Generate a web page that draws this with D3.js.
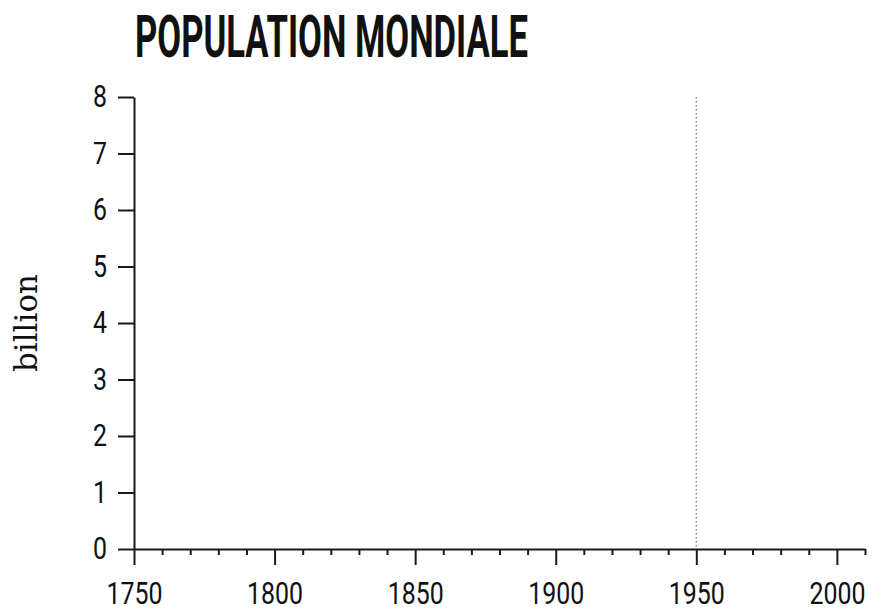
<!DOCTYPE html>
<html>
<head>
<meta charset="utf-8">
<script src="https://cdn.jsdelivr.net/npm/d3@7"></script>
<style>
  body { margin: 0; background: #fff; }
  svg { display: block; }
</style>
</head>
<body>
<div id="chart"></div>
<script>
// chart values
const title = "POPULATION MONDIALE";
const yLabel = "billion";
const yearRange = [1750, 2010];
const yearTicks = [1750, 1760, 1770, 1780, 1790, 1800, 1810, 1820, 1830, 1840, 1850,
  1860, 1870, 1880, 1890, 1900, 1910, 1920, 1930, 1940, 1950, 1960, 1970, 1980, 1990, 2000, 2010];
const yearLabels = [1750, 1800, 1850, 1900, 1950, 2000];
const popTicks = [0, 1, 2, 3, 4, 5, 6, 7, 8];
const markerYears = [1950];

const W = 873, H = 609;
const margin = {top: 97, right: 8, bottom: 60, left: 134};
const width = W - margin.left - margin.right;
const height = H - margin.top - margin.bottom;

const svg = d3.select('#chart').append('svg')
  .attr('width', W)
  .attr('height', H);

const g = svg.append('g')
  .attr('transform', `translate(${margin.left},${margin.top})`);

const x = d3.scaleLinear().domain(yearRange).range([0, width]);
const y = d3.scaleLinear().domain([0, 8]).range([height, 0]);

const tickFont = "'Roboto', sans-serif";
const digitW = 14; // condensed look, squeeze each label

// dotted marker line
g.selectAll('.marker')
  .data(markerYears)
  .enter().append('line')
    .attr('class', 'marker')
    .attr('x1', d => x(d)).attr('x2', d => x(d))
    .attr('y1', y(8)).attr('y2', y(0))
    .attr('stroke', '#8a8a8a')
    .attr('stroke-width', 1.5)
    .attr('stroke-dasharray', '1.5,2.5');

// y axis
const yAxis = g.append('g')
  .call(d3.axisLeft(y).tickValues(popTicks).tickSize(16).tickSizeOuter(0).tickPadding(11));

// x axis, minor ticks every 10 years
const xAxis = g.append('g')
  .attr('transform', `translate(0,${height})`)
  .call(d3.axisBottom(x).tickValues(yearTicks).tickSize(6).tickSizeOuter(0)
    .tickFormat(d => yearLabels.includes(d) ? d : ''));

xAxis.selectAll('.tick line')
  .attr('y2', d => yearLabels.includes(d) ? 16 : 6);
xAxis.selectAll('.tick text')
  .attr('y', 33);

[xAxis, yAxis].forEach(a => {
  a.selectAll('path, line').attr('stroke', '#1a1a1a').attr('stroke-width', 2);
  a.selectAll('text')
    .attr('fill', '#111')
    .style('font-family', tickFont)
    .style('font-size', '31px')
    .attr('lengthAdjust', 'spacingAndGlyphs')
    .attr('textLength', function() { return this.textContent.length * digitW; });
});

// y label
svg.append('text')
  .attr('transform', 'translate(37,323) rotate(-90)')
  .attr('text-anchor', 'middle')
  .style('font-family', "'DejaVu Serif', serif")
  .style('font-size', '31px')
  .attr('fill', '#111')
  .text(yLabel);

// title
svg.append('text')
  .attr('x', 135)
  .attr('y', 57)
  .attr('textLength', 393)
  .attr('lengthAdjust', 'spacingAndGlyphs')
  .style('font-family', "'Roboto', sans-serif")
  .style('font-weight', 'bold')
  .style('font-size', '60px')
  .attr('fill', '#111')
  .text(title);
</script>
</body>
</html>
